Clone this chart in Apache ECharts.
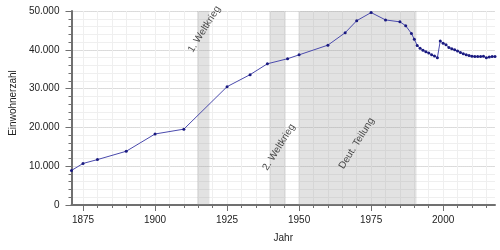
<!DOCTYPE html>
<html><head><meta charset="utf-8">
<script src="https://cdn.jsdelivr.net/npm/echarts@6/dist/echarts.min.js"></script>
<style>html,body{margin:0;padding:0;background:#fff}#c{width:500px;height:250px}</style>
</head><body><div id="c"></div>
<script>
var years = [1871,1875,1880,1890,1900,1910,1925,1933,1939,1946,1950,1960,1966,1970,1975,1980,1985,1987,1989,1990,1991,1992,1993,1994,1995,1996,1997,1998,1999,2000,2001,2002,2003,2004,2005,2006,2007,2008,2009,2010,2011,2012,2013,2014,2015,2016,2017,2018];
var population = [8900,10700,11700,13850,18300,19550,30500,33600,36400,37700,38700,41200,44400,47500,49600,47700,47200,46200,44200,42700,41100,40400,39900,39500,39200,38700,38400,37950,42300,41700,41300,40600,40300,40000,39700,39300,39000,38700,38500,38350,38300,38300,38300,38350,37950,38150,38250,38250];
var majorYears = [1875,1900,1925,1950,1975,2000];
var minorYears = [1875,1880,1885,1890,1895,1900,1905,1910,1915,1920,1925,1930,1935,1940,1945,1950,1955,1960,1965,1970,1975,1980,1985,1990,1995,2000,2005,2010,2015];
var periodNames = ['1. Weltkrieg','2. Weltkrieg','Deut. Teilung'];
var periodStart = [1914.6,1939.67,1949.77];
var periodEnd = [1918.87,1945.35,1990.75];
var periodLabelX = [1917.1,1943.0,1970.0];
var periodLabelY = [45300,14900,15900];

function de(v){return String(v).replace(/\B(?=(\d{3})+(?!\d))/g,'.');}

var areas = periodStart.map(function(s,i){return [{xAxis:s},{xAxis:periodEnd[i]}];});
var labels = periodNames.map(function(n,i){return {name:n,value:[periodLabelX[i],periodLabelY[i]]};});
var font = 'Liberation Sans, Arial, sans-serif';
var chart = echarts.init(document.getElementById('c'));
chart.setOption({
  animation:false,
  grid:{left:68,right:5,top:11,bottom:45},
  xAxis:[{
    type:'value',min:1871,max:2018,position:'bottom',
    name:'Jahr',nameLocation:'middle',nameGap:28,
    nameTextStyle:{fontFamily:font,fontSize:10,color:'#222'},
    axisLine:{show:true,onZero:false,lineStyle:{color:'#707070',width:2}},
    axisTick:{show:true,customValues:majorYears,length:6,lineStyle:{color:'#707070',width:1}},
    axisLabel:{customValues:majorYears,margin:10,fontFamily:font,fontSize:10,color:'#222',formatter:function(v){return String(v);}},
    splitLine:{show:true,lineStyle:{type:'dotted',color:'#b8b8b8',width:1}}
  },{
    type:'value',min:1871,max:2018,position:'bottom',offset:0,
    axisLine:{show:false},
    axisTick:{show:true,customValues:minorYears,length:3,lineStyle:{color:'#707070',width:1}},
    axisLabel:{show:false},
    splitLine:{show:true,lineStyle:{type:'solid',color:'#efefef',width:1}}
  }],
  yAxis:{
    type:'value',min:0,max:50000,interval:10000,
    name:'Einwohnerzahl',nameLocation:'middle',nameGap:50,nameRotate:90,
    nameTextStyle:{fontFamily:font,fontSize:10,color:'#222',padding:[0,0,0,10]},
    axisLine:{show:true,lineStyle:{color:'#707070',width:2}},
    axisTick:{show:true,length:6,lineStyle:{color:'#707070',width:1}},
    minorTick:{show:true,splitNumber:5,length:3,lineStyle:{color:'#707070',width:1}},
    axisLabel:{margin:12,fontFamily:font,fontSize:10,color:'#222',formatter:function(v){return de(v);}},
    splitLine:{show:true,lineStyle:{type:'dotted',color:'#b8b8b8',width:1}},
    minorSplitLine:{show:true,lineStyle:{color:'#efefef',width:1}}
  },
  series:[{
    type:'line',xAxisIndex:0,
    data:years.map(function(y,i){return [y,population[i]];}),
    symbol:'circle',symbolSize:3,showSymbol:true,
    lineStyle:{color:'#4a4aac',width:1},
    itemStyle:{color:'#1a1a80'},
    markArea:{silent:true,itemStyle:{color:'rgba(150,150,150,0.28)'},data:areas},
    z:3
  },{
    type:'scatter',xAxisIndex:0,symbolSize:0,data:labels,silent:true,
    label:{show:true,position:'inside',rotate:58,formatter:'{b}',fontFamily:font,fontSize:10,color:'#222'}
  }]
});
</script></body></html>
